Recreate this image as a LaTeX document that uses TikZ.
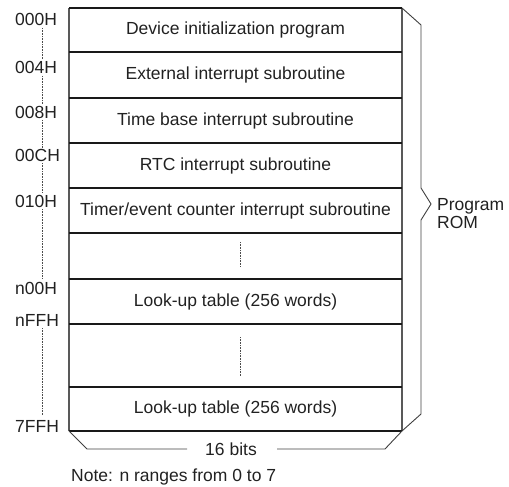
\documentclass[tikz,border=0pt]{standalone}
\usepackage{fontspec}
\setmainfont{Liberation Sans}
\begin{document}
\begin{tikzpicture}[x=1pt,y=-1pt,
  txt/.style={font=\fontsize{17.5}{20}\selectfont, text=black!87, inner sep=0pt},
  addr/.style={txt, anchor=base west},
  divider/.style={line width=1.8pt, black!90},
  edge/.style={line width=1.2pt, black!65},
  bracel/.style={line width=0.9pt, black!75},
  dotl/.style={line width=0.8pt, black!70, dash pattern=on 0.7pt off 0.9pt}]
\useasboundingbox (0,0) rectangle (509,487);
% outer box
\coordinate (tl) at (69,8);
\coordinate (tr) at (402,8);
\coordinate (bl) at (69,431);
\coordinate (br) at (402,431);
\draw[edge] (tl) -- (bl);
\draw[edge] (tr) -- (br);
\foreach \y in {8,52,98,143,188,233,279,324,387,431}
  \draw[divider] (69,\y) -- (402,\y);
% row texts
\node[txt] (r1) at (235.5,30) {Device initialization program};
\node[txt] (r2) at (235.5,75) {External interrupt subroutine};
\node[txt] (r3) at (235.5,120.5) {Time base interrupt subroutine};
\node[txt] (r4) at (235.5,165.5) {RTC interrupt subroutine};
\node[txt] (r5) at (235.5,210.5) {Timer/event counter interrupt subroutine};
\node[txt] (r7) at (235.5,301.5) {Look-up table (256 words)};
\node[txt] (r9) at (235.5,409) {Look-up table (256 words)};
% dotted in-box
\draw[dotl] (240,242) -- (240,267);
\draw[dotl] (240,337) -- (240,376);
% address labels
\node[addr] (a0) at (15,26) {000H};
\node[addr] (a1) at (15,74) {004H};
\node[addr] (a2) at (15,118.5) {008H};
\node[addr] (a3) at (15,161) {00CH};
\node[addr] (a4) at (15,207) {010H};
\node[addr] (a5) at (15,294) {n00H};
\node[addr] (a6) at (15,326) {nFFH};
\node[addr] (a7) at (15,432) {7FFH};
\draw[dotl] (42,28) -- (42,59);
\draw[dotl] (42,76) -- (42,104);
\draw[dotl] (42,120) -- (42,148);
\draw[dotl] (42,163) -- (42,193);
\draw[dotl] (42,209) -- (42,279);
\draw[dotl] (42,328) -- (42,415);
% right brace
\draw[bracel] (tr) -- (421,25) -- (421,188) -- (431,204) -- (421,220) -- (421,414) -- (br);
\node[txt, anchor=base west] (rom) at (437,210) {Program};
\node[txt, anchor=base west] (rom2) at (437,228) {ROM};
% bottom brace
\node[txt] (bits) at (231,449) {16 bits};
\coordinate (bb1) at (87,449);
\coordinate (bb2) at (385,449);
\draw[bracel] (bl) -- (bb1) -- (187,449);
\draw[bracel] (277,449) -- (bb2) -- (br);
\node[txt, anchor=base west] (note) at (71,481) {Note: n ranges from 0 to 7};
\end{tikzpicture}
\end{document}
